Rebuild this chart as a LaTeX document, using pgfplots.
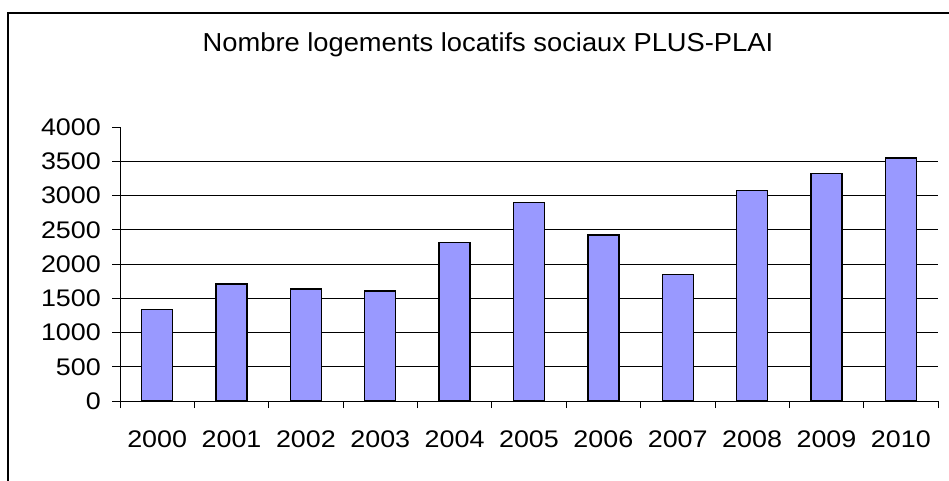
\documentclass[border=0pt]{standalone}
\usepackage{fontspec}
\setmainfont{Liberation Sans}
\newfontfamily\tickfont{Liberation Sans}[FakeStretch=1.12]
\newfontfamily\titlefont{Liberation Sans}[FakeStretch=1.05]
\usepackage{pgfplots}
\pgfplotsset{compat=1.18}
\definecolor{barfill}{HTML}{9999FF}
\begin{document}
\fontsize{24}{28}\selectfont
\begin{tikzpicture}[x=1pt,y=1pt]
\useasboundingbox (0,0) rectangle (949,480);
\draw[line width=2.3pt] (8,-20) -- (8,467.3) -- (980,467.3);
\node[anchor=base, inner sep=0pt, font=\titlefont\fontsize{26}{30}\selectfont] at (488,428) {Nombre logements locatifs sociaux PLUS-PLAI};
\begin{axis}[
  at={(120pt,79pt)}, anchor=south west,
  scale only axis, width=818pt, height=274pt,
  xmin=-0.5, xmax=10.5, ymin=0, ymax=4000,
  axis x line=bottom, axis y line=left,
  axis line style={-, line width=0.8pt, black},
  ytick={0,500,...,3500},
  extra y ticks={4000},
  extra y tick style={grid=none},
  xtick={0,...,10},
  xticklabels={2000,2001,2002,2003,2004,2005,2006,2007,2008,2009,2010},
  minor xtick={-0.5,0.5,...,10.5},
  major x tick style={draw=none},
  minor x tick style={line width=0.8pt, black},
  minor tick length=7pt,
  major tick length=8pt,
  y tick style={line width=0.8pt, black},
  tick align=outside,
  ymajorgrids, grid style={black, line width=0.8pt},
  /pgf/number format/assume math mode=true,
  /pgf/number format/1000 sep={},
  ticklabel style={font=\tickfont\fontsize{24}{28}\selectfont},
  xticklabel style={yshift=-14pt},
  yticklabel style={xshift=-3pt},
  clip=false,
]
\addplot[ybar, bar width=31pt, fill=barfill, draw=black, line width=1.3pt] coordinates {
(0,1333) (1,1708) (2,1635) (3,1606) (4,2317) (5,2900) (6,2423) (7,1844) (8,3070) (9,3318) (10,3547)
};
\end{axis}
\end{tikzpicture}
\end{document}
